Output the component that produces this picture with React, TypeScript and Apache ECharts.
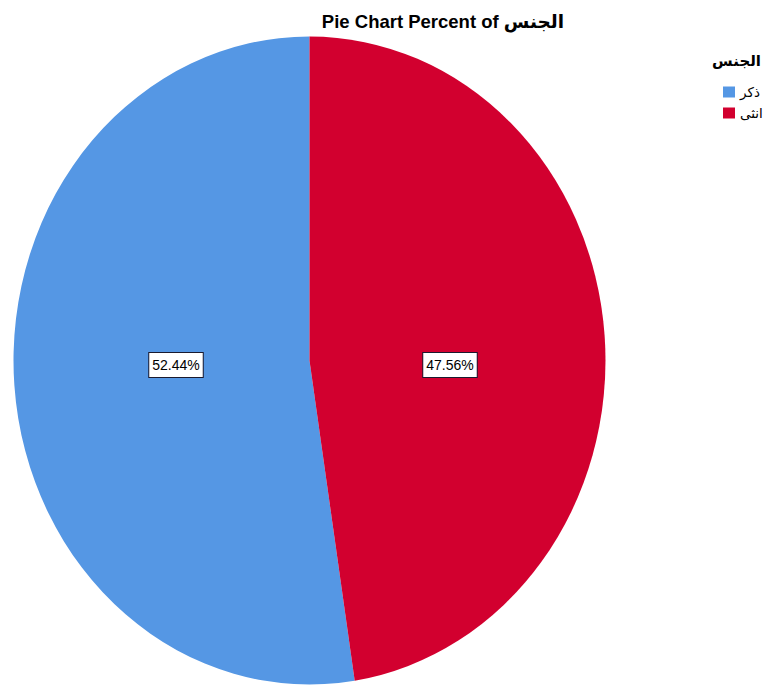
import React, { useEffect, useRef } from "react";
import * as echarts from "echarts";

const categories = ["ذكر", "انثى"];
const percents = [52.44, 47.56];
const colors = ["#5597E4", "#D2002F"];
const titleText = "Pie Chart Percent of الجنس";
const legendTitle = "الجنس";

const FONT = "'Liberation Sans', Arial, 'DejaVu Sans', sans-serif";

const CX = 309.5;
const CY = 360.5;
const RX = 296;
const RY = 324;

export default function App() {
  const pieRef = useRef<HTMLDivElement>(null);
  const topRef = useRef<HTMLDivElement>(null);

  useEffect(() => {
    document.body.style.margin = "0";
    const pie = echarts.init(pieRef.current!, null, { renderer: "svg" });
    const top = echarts.init(topRef.current!, null, { renderer: "svg" });

    const data = categories.map((name, i) => ({
      name,
      value: percents[i],
      itemStyle: { color: colors[i] },
    }));

    // invisible carrier for the labels; rotated so both labels sit on the
    // horizontal line through the centre, as in the original SPSS output
    const labelData = categories
      .map((name, i) => ({
        name,
        value: percents[i],
        itemStyle: { color: "rgba(0,0,0,0)" },
      }))
      .reverse();
    const total = percents.reduce((a, b) => a + b, 0);
    const carrierStart = (percents[1] / total) * 180;

    pie.setOption({
      animation: false,
      series: [
        {
          type: "pie",
          center: [CX, CY],
          radius: RX,
          startAngle: 90,
          clockwise: false,
          silent: true,
          label: { show: false },
          labelLine: { show: false },
          emphasis: { disabled: true },
          data,
        },
      ],
    });

    top.setOption({
      animation: false,
      title: [
        {
          text: titleText,
          left: 438,
          top: 7,
          textAlign: "center",
          textStyle: { fontFamily: FONT, fontSize: 18.5, fontWeight: "bold", color: "#000" },
        },
        {
          text: legendTitle,
          right: 4,
          top: 48,
          textStyle: { fontFamily: FONT, fontSize: 15, fontWeight: "bold", color: "#000" },
        },
      ],
      legend: {
        orient: "vertical",
        left: 718,
        top: 80,
        icon: "rect",
        itemWidth: 12,
        itemHeight: 11,
        itemGap: 7,
        textStyle: { fontFamily: FONT, fontSize: 13.5, color: "#000" },
        data: categories.map((name, i) => ({
          name,
          itemStyle: { color: colors[i], opacity: 1 },
        })),
      },
      series: [
        {
          type: "pie",
          center: [313, 365],
          radius: 268,
          startAngle: carrierStart,
          clockwise: true,
          silent: true,
          labelLine: { show: false },
          emphasis: { disabled: true },
          label: {
            show: true,
            position: "inner",
            formatter: (p: any) => p.value.toFixed(2) + "%",
            fontFamily: FONT,
            fontSize: 14,
            lineHeight: 16,
            color: "#000",
            backgroundColor: "#fff",
            borderColor: "#1a1a2e",
            borderWidth: 1,
            padding: [4, 3],
          },
          data: labelData,
        },
      ],
    });

    return () => {
      pie.dispose();
      top.dispose();
    };
  }, []);

  return (
    <div style={{ position: "relative", width: 770, height: 685, background: "#fff", overflow: "hidden" }}>
      <div
        ref={pieRef}
        style={{
          position: "absolute",
          left: 0,
          top: 0,
          width: 770,
          height: 685,
          transform: `scaleY(${RY / RX})`,
          transformOrigin: `${CX}px ${CY}px`,
        }}
      />
      <div
        ref={topRef}
        style={{ position: "absolute", left: 0, top: 0, width: 770, height: 685 }}
      />
    </div>
  );
}
